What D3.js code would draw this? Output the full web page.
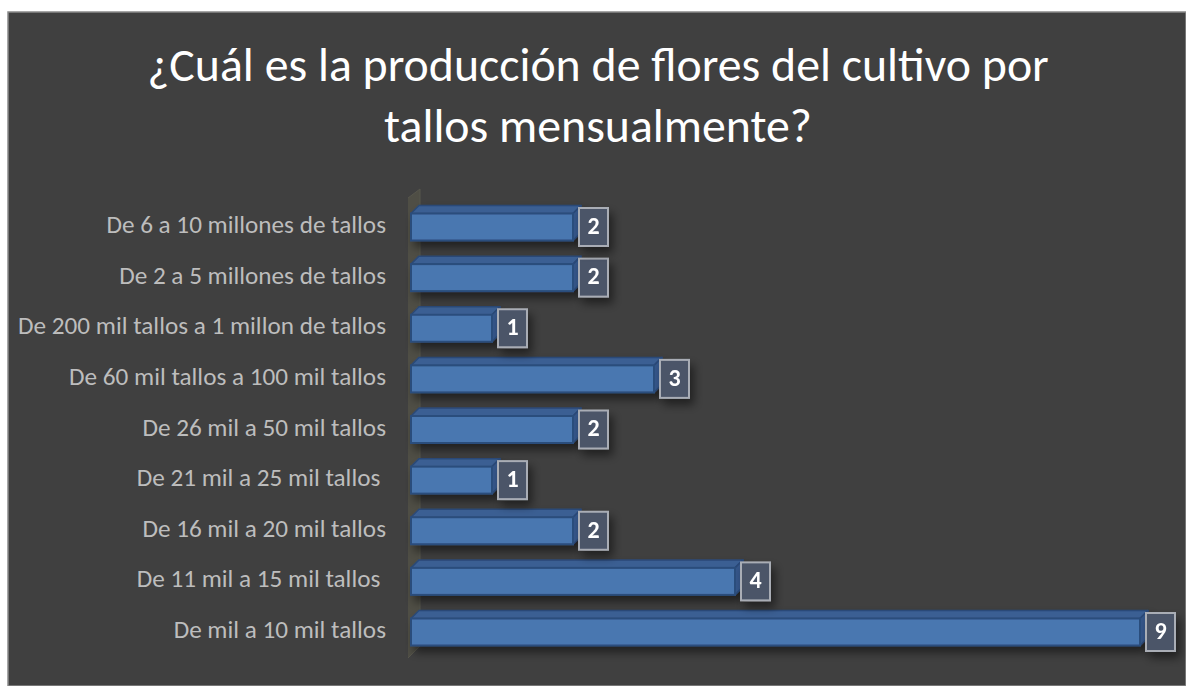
<!DOCTYPE html>
<html><head><meta charset="utf-8">
<script src="https://cdn.jsdelivr.net/npm/d3@7/dist/d3.min.js"></script>
<style>html,body{margin:0;padding:0;background:#fff;overflow:hidden}</style>
</head><body><svg id="c" width="1186" height="686"></svg>
<script>
const titleLines = ["¿Cuál es la producción de flores del cultivo por", "tallos mensualmente?"];
const categories = [
  "De mil a 10 mil tallos",
  "De 11 mil a 15 mil tallos ",
  "De 16 mil a 20 mil tallos",
  "De 21 mil a 25 mil tallos ",
  "De 26 mil a 50 mil tallos",
  "De 60 mil tallos a 100 mil tallos",
  "De 200 mil tallos a 1 millon de tallos",
  "De 2 a 5 millones de tallos",
  "De 6 a 10 millones de tallos"
];
const values = [9, 4, 2, 1, 2, 3, 1, 2, 2];

const svg = d3.select("#c");
const defs = svg.append("defs");
const f = defs.append("filter").attr("id","sh").attr("x","-30%").attr("y","-30%").attr("width","180%").attr("height","200%");
f.append("feGaussianBlur").attr("in","SourceAlpha").attr("stdDeviation",5);
f.append("feOffset").attr("dx",4).attr("dy",6).attr("result","b");
f.append("feComponentTransfer").append("feFuncA").attr("type","linear").attr("slope",0.5);
const m = f.append("feMerge"); m.append("feMergeNode"); m.append("feMergeNode").attr("in","SourceGraphic");

svg.append("rect").attr("x",8).attr("y",12).attr("width",1186-8).attr("height",686-12)
  .attr("fill","#404040").attr("stroke","#8a8a8a").attr("stroke-width",1.5);

const font = "Calibri, Carlito, 'Open Sans', 'Liberation Sans', sans-serif";

const tl = svg.append("g");
const tY = [70, 131];
titleLines.forEach((t,i)=>{
  tl.append("text").attr("x",598).attr("y",tY[i]).attr("text-anchor","middle")
    .attr("dominant-baseline","middle").attr("fill","#ffffff")
    .style("font-family",font).style("font-size","40px").text(t);
});
{
  const n = tl.select("text").node();
  const w = n.getComputedTextLength();
  tl.selectAll("text").style("font-size", (40*902/w)+"px");
}

const y = d3.scalePoint().domain(categories).range([632, 227]);
const x = d3.scaleLinear().domain([0, 9]).range([411, 1140]);
const bh = 27, dx = 8, dy = 8;

svg.append("path").attr("d", d3.line()([[408,198],[420,189],[420,646],[408,658]]))
  .attr("fill","#4f4e45").attr("stroke","#57564c");

const lab = svg.append("g");
categories.forEach(c=>{
  lab.append("text").attr("x",386).attr("y",y(c)).attr("text-anchor","end")
    .attr("dominant-baseline","middle").attr("fill","#bdbdbd")
    .attr("xml:space","preserve").style("white-space","pre")
    .style("font-family",font).style("font-size","17px").text(c);
});
{
  const n = lab.selectAll("text").nodes()[6];
  const w = n.getComputedTextLength();
  lab.selectAll("text").style("font-size", (17*368/w)+"px");
}

const bars = svg.append("g");
categories.forEach((c,i)=>{
  const v = values[i];
  const x0 = x(0), x1 = x(v), yt = y(c)-bh/2, yb = y(c)+bh/2;
  const g = bars.append("g").attr("filter","url(#sh)");
  g.append("path").attr("d", d3.line()([[x0,yt],[x0+dx,yt-dy],[x1+dx,yt-dy],[x1,yt]])+"Z")
    .attr("fill","#3b5f93").attr("stroke","#2b4a78").attr("stroke-width",1.5).attr("stroke-linejoin","round");
  g.append("path").attr("d", d3.line()([[x1,yt],[x1+dx,yt-dy],[x1+dx,yb-dy],[x1,yb]])+"Z")
    .attr("fill","#34578a").attr("stroke","#2b4a78").attr("stroke-width",1.5).attr("stroke-linejoin","round");
  g.append("rect").attr("x",x0).attr("y",yt).attr("width",x1-x0).attr("height",bh)
    .attr("fill","#4a77b0").attr("stroke","#2c4d7c").attr("stroke-width",2);
  const bx = x1 + dx - 2;
  const lg = bars.append("g").attr("filter","url(#sh)");
  lg.append("rect").attr("x",bx).attr("y",y(c)-19).attr("width",29).attr("height",38)
    .attr("fill","#4b5568").attr("stroke","#a9adb5").attr("stroke-width",2);
  lg.append("text").attr("x",bx+14.5).attr("y",y(c)+1).attr("text-anchor","middle")
    .attr("dominant-baseline","middle").attr("fill","#ffffff")
    .style("font-family",font).style("font-weight","bold").style("font-size","24px").text(v);
});
</script></body></html>
